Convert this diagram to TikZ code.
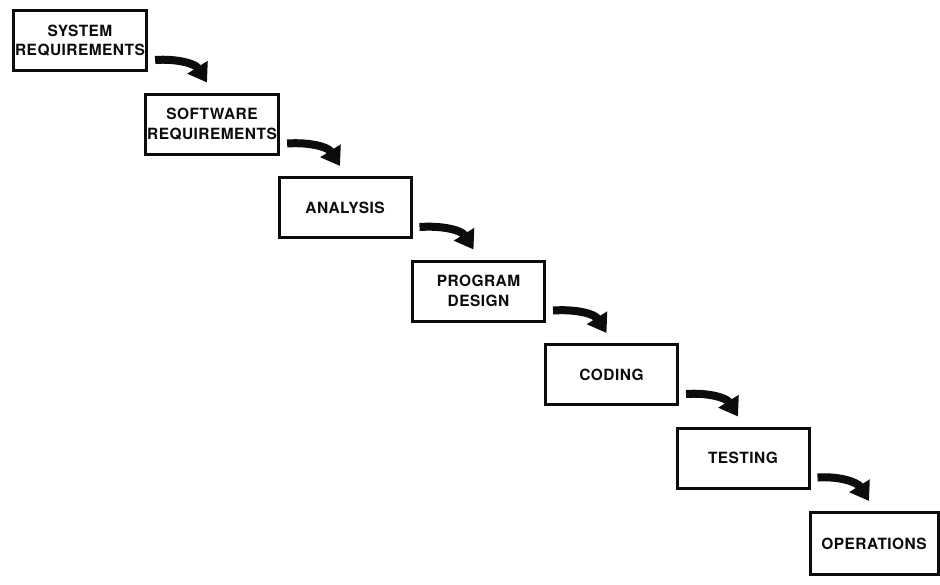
\documentclass[tikz,border=0pt]{standalone}
\usepackage{fontspec}
\usepackage{tikz}
\usetikzlibrary{arrows.meta, positioning, calc}
\newfontfamily\stagefont[LetterSpace=3]{TeX Gyre Heros}
\definecolor{ink}{HTML}{0C0C0C}
\tikzset{
  stage/.style={rectangle, draw=ink, line width=0.06cm, fill=white, text=ink,
                minimum width=2.64cm, minimum height=1.2cm, align=center,
                font=\stagefont\bfseries\fontsize{8.8}{11}\selectfont, inner sep=1pt},
  fall/.style={-{Triangle[length=0.36cm, width=0.46cm]}, draw=ink, line width=0.16cm}
}

\begin{document}
\begin{tikzpicture}
  \useasboundingbox[fill=white] (0,0) rectangle (18.8,-11.68);
  \node[stage] (sys) at (1.60,-0.81) {SYSTEM\\REQUIREMENTS};
  \node[stage] (sw) at (4.24,-2.48) {SOFTWARE\\REQUIREMENTS};
  \node[stage] (an) at (6.90,-4.15) {ANALYSIS};
  \node[stage] (pd) at (9.57,-5.82) {PROGRAM\\DESIGN};
  \node[stage] (cod) at (12.23,-7.49) {CODING};
  \node[stage] (tst) at (14.86,-9.16) {TESTING};
  \node[stage, minimum width=2.56cm, minimum height=1.24cm] (ops) at (17.48,-10.87) {OPERATIONS};
  % step down arrows
  \foreach \a/\b in {sys/sw, sw/an, an/pd, pd/cod, cod/tst, tst/ops}
    \draw[fall] ($(\a.south east)+(0.14,0.24)$) to[out=4, in=122] ($(\b.north)+(-0.1,0.2)$);
\end{tikzpicture}
\end{document}
